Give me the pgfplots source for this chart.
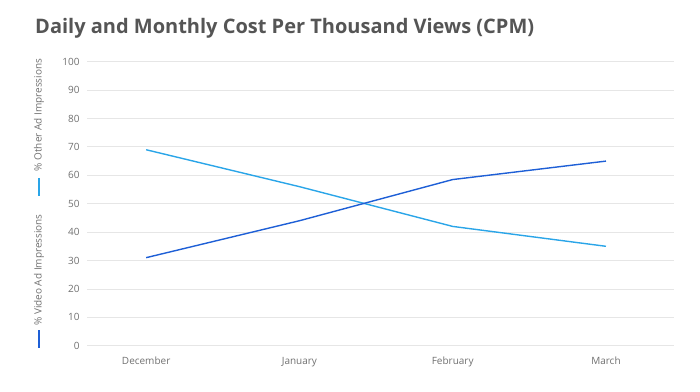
\documentclass[border=0pt]{standalone}
\usepackage{pgfplots}
\pgfplotsset{compat=1.18}
\usepackage{fontspec}
\setmainfont{Open Sans}
\definecolor{lightblue}{HTML}{2AA5E8}
\definecolor{darkblue}{HTML}{1E5FD6}
\definecolor{titlegray}{HTML}{555555}
\definecolor{tickgray}{HTML}{707070}
\definecolor{gridgray}{HTML}{E6E6E6}
\begin{document}
\begin{tikzpicture}[x=1pt,y=1pt]
\useasboundingbox (0,0) rectangle (700,391);
\begin{axis}[at={(87pt,45.3pt)}, anchor=south west, scale only axis,
  width=587pt, height=284pt,
  xmin=-0.386, xmax=3.444, ymin=0, ymax=100,
  ytick={0,10,...,100}, xtick={0,1,2,3},
  xticklabels={December,January,February,March},
  axis line style={draw=none}, major tick length=0pt,
  ymajorgrids, grid style={gridgray, line width=0.8pt},
  tick label style={font=\fontsize{10}{12}\selectfont, text=tickgray},
  yticklabel style={xshift=-4pt}, xticklabel style={yshift=-8pt},
  /pgf/number format/assume math mode=true, clip=false]
\addplot[lightblue, line width=1.4pt] coordinates {(0,69) (1,56) (2,42) (3,35)};
\addplot[darkblue, line width=1.4pt] coordinates {(0,31) (1,44) (2,58.5) (3,65)};
\end{axis}
\node[anchor=base west, text=titlegray, font=\fontsize{20}{24}\selectfont\bfseries, inner sep=0pt] at (35,357) {Daily and Monthly Cost Per Thousand Views (CPM)};
\node[rotate=90, font=\fontsize{10}{12}\selectfont, text=tickgray] at (39,276) {\% Other Ad Impressions};
\draw[lightblue, line width=2pt] (39,213) -- (39,195);
\node[rotate=90, font=\fontsize{10}{12}\selectfont, text=tickgray] at (39,121) {\% Video Ad Impressions};
\draw[darkblue, line width=2pt] (39,61) -- (39,43);
\end{tikzpicture}
\end{document}
